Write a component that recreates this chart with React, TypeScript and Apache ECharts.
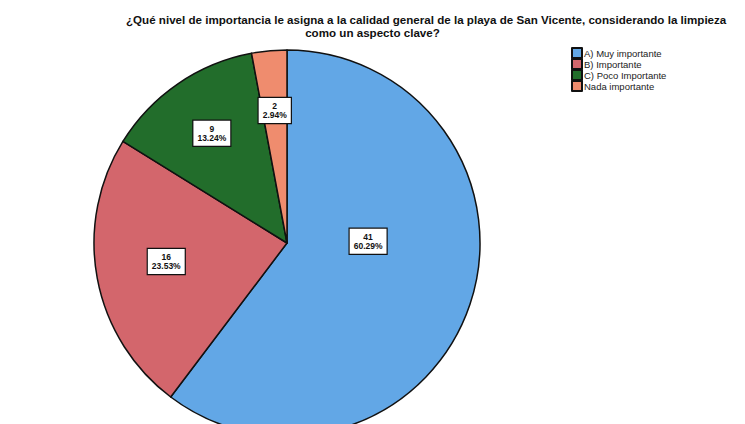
import React, { useEffect, useRef } from "react";
import * as echarts from "echarts";

const categories = ["A) Muy importante", "B) Importante", "C) Poco Importante", "Nada importante"];
const counts = [41, 16, 9, 2];
const colors = ["#62a7e6", "#d3666c", "#226d2b", "#ef8c6e"];
const titleLine1 = "¿Qué nivel de importancia le asigna a la calidad general de la playa de San Vicente, considerando la limpieza";
const titleLine2 = "como un aspecto clave?";

export default function App() {
  const ref = useRef<HTMLDivElement>(null);
  useEffect(() => {
    if (!ref.current) return;
    document.body.style.margin = "0";
    const chart = echarts.init(ref.current, null, { renderer: "svg" });
    const data = categories.map((name, i) => ({
      name,
      value: counts[i],
      itemStyle: { color: colors[i] },
    }));
    const adjust: Record<number, { dx: number; dy: number }> = {
      0: { dx: -45, dy: -44 },
      1: { dx: 10, dy: -6 },
    };
    chart.setOption({
      animation: false,
      backgroundColor: "#ffffff",
      title: [
        {
          text: titleLine1,
          left: 121,
          top: 8,
          textStyle: { fontFamily: "Liberation Sans", fontWeight: "bold", fontSize: 11.6, color: "#111" },
        },
        {
          text: titleLine2,
          left: "center",
          top: 21,
          textStyle: { fontFamily: "Liberation Sans", fontWeight: "bold", fontSize: 11.6, color: "#111" },
        },
      ],
      legend: {
        orient: "vertical",
        left: 566,
        top: 42,
        itemWidth: 10,
        itemHeight: 10,
        itemGap: -1,
        icon: "rect",
        data: categories,
        textStyle: { fontFamily: "Liberation Sans", fontSize: 9.5, lineHeight: 11, color: "#222", padding: [0, 0, 0, -3] },
      },
      series: [
        {
          type: "pie",
          center: [287, 243],
          radius: [0, 193],
          startAngle: 90,
          clockwise: true,
          label: { show: false },
          labelLine: { show: false },
          itemStyle: { borderColor: "#111", borderWidth: 1.5 },
          emphasis: { disabled: true },
          data,
        },
        {
          type: "pie",
          center: [287, 243],
          radius: [67, 193],
          startAngle: 90,
          clockwise: true,
          silent: true,
          legendHoverLink: false,
          itemStyle: { color: "rgba(0,0,0,0)", borderWidth: 0 },
          emphasis: { disabled: true },
          label: {
            show: true,
            position: "inside",
            formatter: (p: any) => `${p.value}\n${p.percent.toFixed(2)}%`,
            backgroundColor: "#ffffff",
            borderColor: "#111",
            borderWidth: 1.2,
            padding: [3, 4, 3, 4],
            fontFamily: "Liberation Sans",
            fontWeight: "bold",
            fontSize: 8.5,
            lineHeight: 9.5,
            color: "#111",
            align: "center",
          },
          labelLine: { show: false },
          labelLayout: (params: any) => adjust[params.dataIndex] || {},
          data: categories.map((name, i) => ({ name: "_" + name, value: counts[i] })),
          tooltip: { show: false },
        },
      ],
    });
    return () => chart.dispose();
  }, []);
  return <div ref={ref} style={{ width: 745, height: 424 }} />;
}
